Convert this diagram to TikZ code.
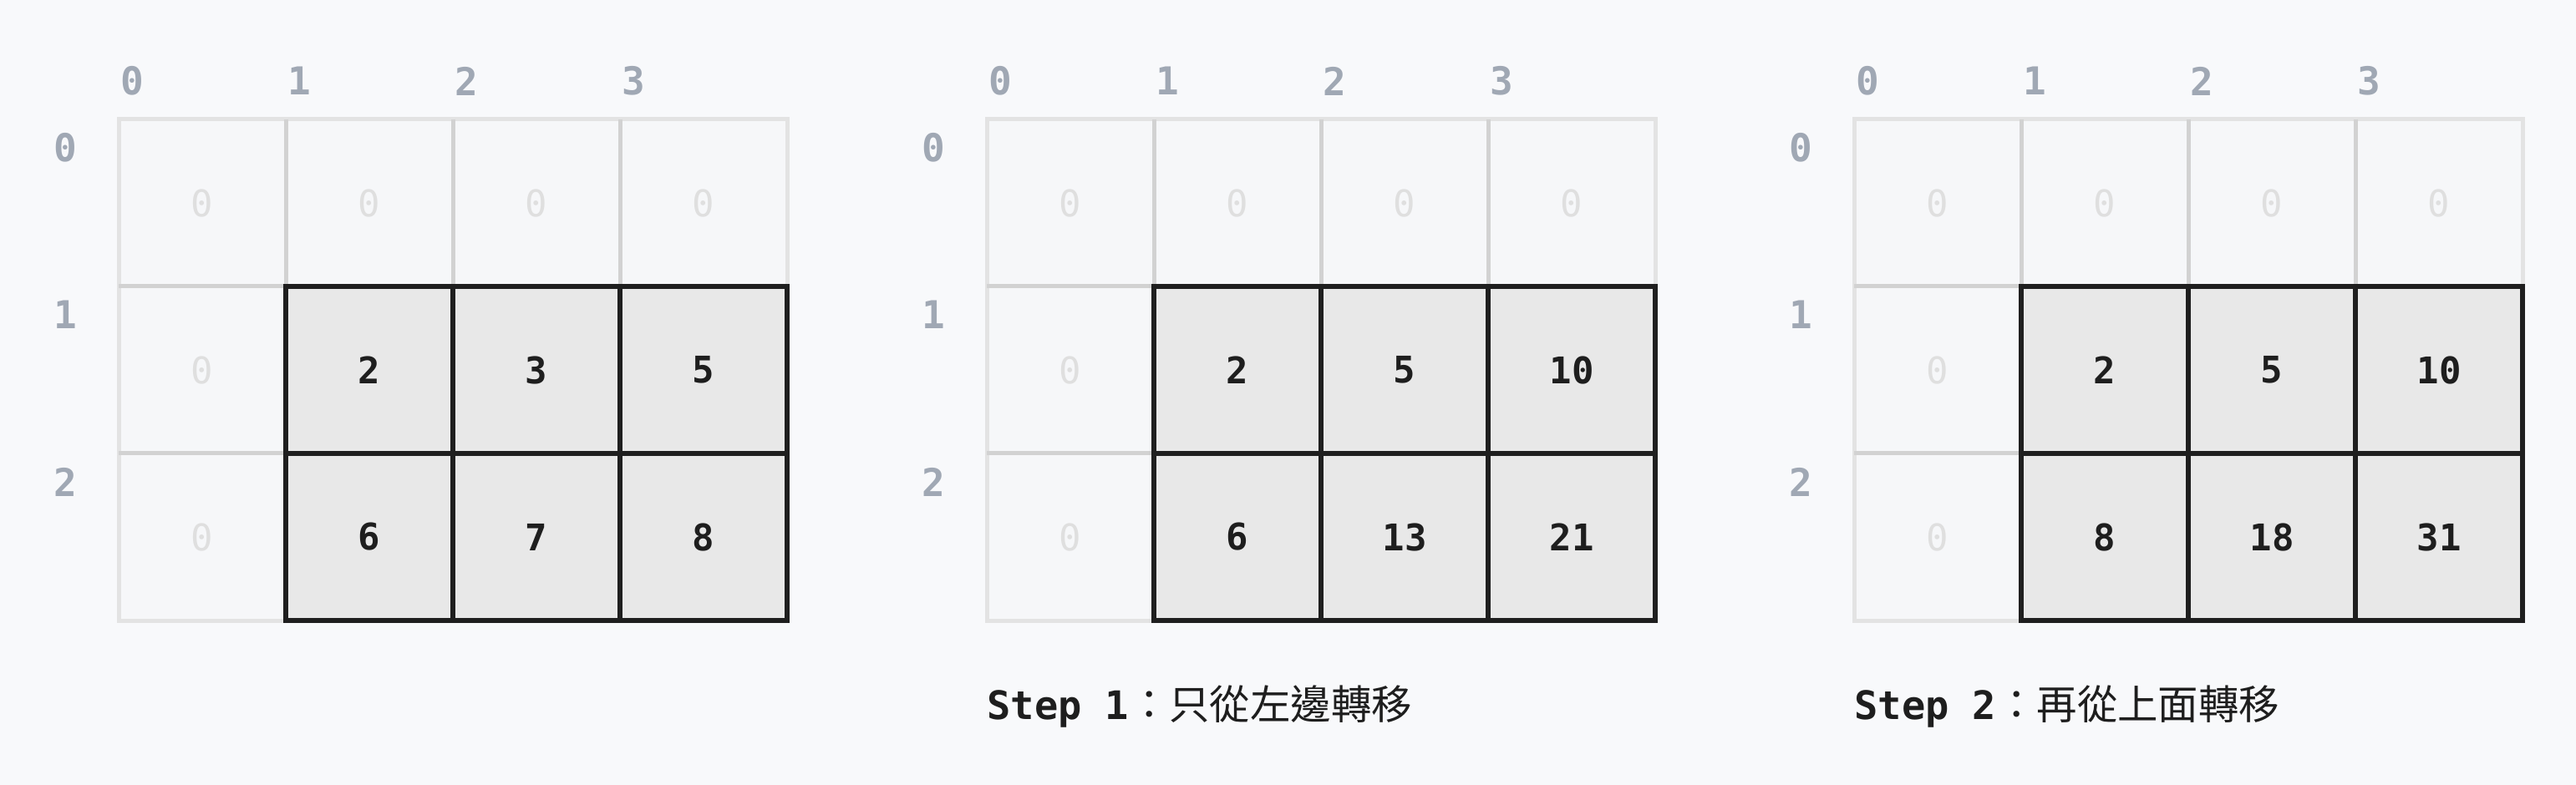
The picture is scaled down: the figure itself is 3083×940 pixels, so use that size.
\documentclass[tikz,border=0pt]{standalone}
\usepackage{fontspec}
\setmonofont{DejaVu Sans Mono}
\newfontfamily\cjk{Noto Sans CJK TC}
\definecolor{pagebg}{HTML}{F8F9FB}
\definecolor{cellbg}{HTML}{F6F7F9}
\definecolor{frameline}{HTML}{E3E3E3}
\definecolor{innerline}{HTML}{D2D2D2}
\definecolor{boldfill}{HTML}{E8E8E8}
\definecolor{boldline}{HTML}{1F1F1F}
\definecolor{labelgray}{HTML}{A0A8B4}
\definecolor{zerogray}{HTML}{DFDFDF}
\definecolor{inkdark}{HTML}{1E1E1E}
\tikzset{
  frame/.style={draw=frameline,line width=2.5pt},
  innerl/.style={draw=innerline,line width=2.5pt},
  boldbox/.style={draw=boldline,fill=boldfill,line width=3.25pt},
  boldl/.style={draw=boldline,line width=3.25pt},
  axislabel/.style={font=\ttfamily\bfseries\fontsize{23}{23}\selectfont,text=labelgray,inner sep=0pt},
  zeroval/.style={font=\ttfamily\fontsize{22}{22}\selectfont,text=zerogray,inner sep=0pt},
  darkval/.style={font=\ttfamily\bfseries\fontsize{22}{22}\selectfont,text=inkdark,inner sep=0pt},
  caption/.style={font=\fontsize{23.5}{23.5}\selectfont,text=inkdark,inner sep=0pt,anchor=base west}
}
\begin{document}
\begin{tikzpicture}[x=0.5pt,y=-0.5pt]
\fill[pagebg] (0,0) rectangle (3083,940);
\useasboundingbox (0,0) rectangle (3083,940);
\foreach \ox/\g/\va/\vb/\vc/\vd/\ve/\vf in {142/a/2/3/5/6/7/8,1181/b/2/5/10/6/13/21,2219/c/2/5/10/8/18/31}{
  % light grid
  \fill[cellbg] (\ox,143) rectangle ++(800,600);
  \draw[frame] (\ox,143) rectangle ++(800,600);
  \foreach \i in {1,2,3} \draw[innerl] (\ox+200*\i,143) -- ++(0,600);
  \foreach \j in {1,2} \draw[innerl] (\ox,143+200*\j) -- ++(800,0);
  % bold box
  \draw[boldbox] (\ox+200,343) rectangle ++(600,400);
  \draw[boldl] (\ox+400,343) -- ++(0,400);
  \draw[boldl] (\ox+600,343) -- ++(0,400);
  \draw[boldl] (\ox+200,543) -- ++(600,0);
  % axis labels
  \foreach \c in {0,1,2,3}
    \node[axislabel] (\g col\c) at (\ox+16+200*\c,97) {\c};
  \foreach \r in {0,1,2}
    \node[axislabel] (\g row\r) at (\ox-64,177+200*\r) {\r};
  % zero values
  \foreach \c in {0,1,2,3}
    \node[zeroval] (\g z0\c) at (\ox+100+200*\c,243) {0};
  \node[zeroval] (\g z10) at (\ox+100,443) {0};
  \node[zeroval] (\g z20) at (\ox+100,643) {0};
  % dark values
  \node[darkval] (\g v11) at (\ox+300,443) {\va};
  \node[darkval] (\g v12) at (\ox+500,443) {\vb};
  \node[darkval] (\g v13) at (\ox+700,443) {\vc};
  \node[darkval] (\g v21) at (\ox+300,643) {\vd};
  \node[darkval] (\g v22) at (\ox+500,643) {\ve};
  \node[darkval] (\g v23) at (\ox+700,643) {\vf};
}
\node[caption] (cap1) at (1181,861) {\ttfamily\bfseries Step 1\cjk\mdseries\fontsize{24.2}{24.2}\selectfont ：只從左邊轉移};
\node[caption] (cap2) at (2219,861) {\ttfamily\bfseries Step 2\cjk\mdseries\fontsize{24.2}{24.2}\selectfont ：再從上面轉移};
\end{tikzpicture}
\end{document}
